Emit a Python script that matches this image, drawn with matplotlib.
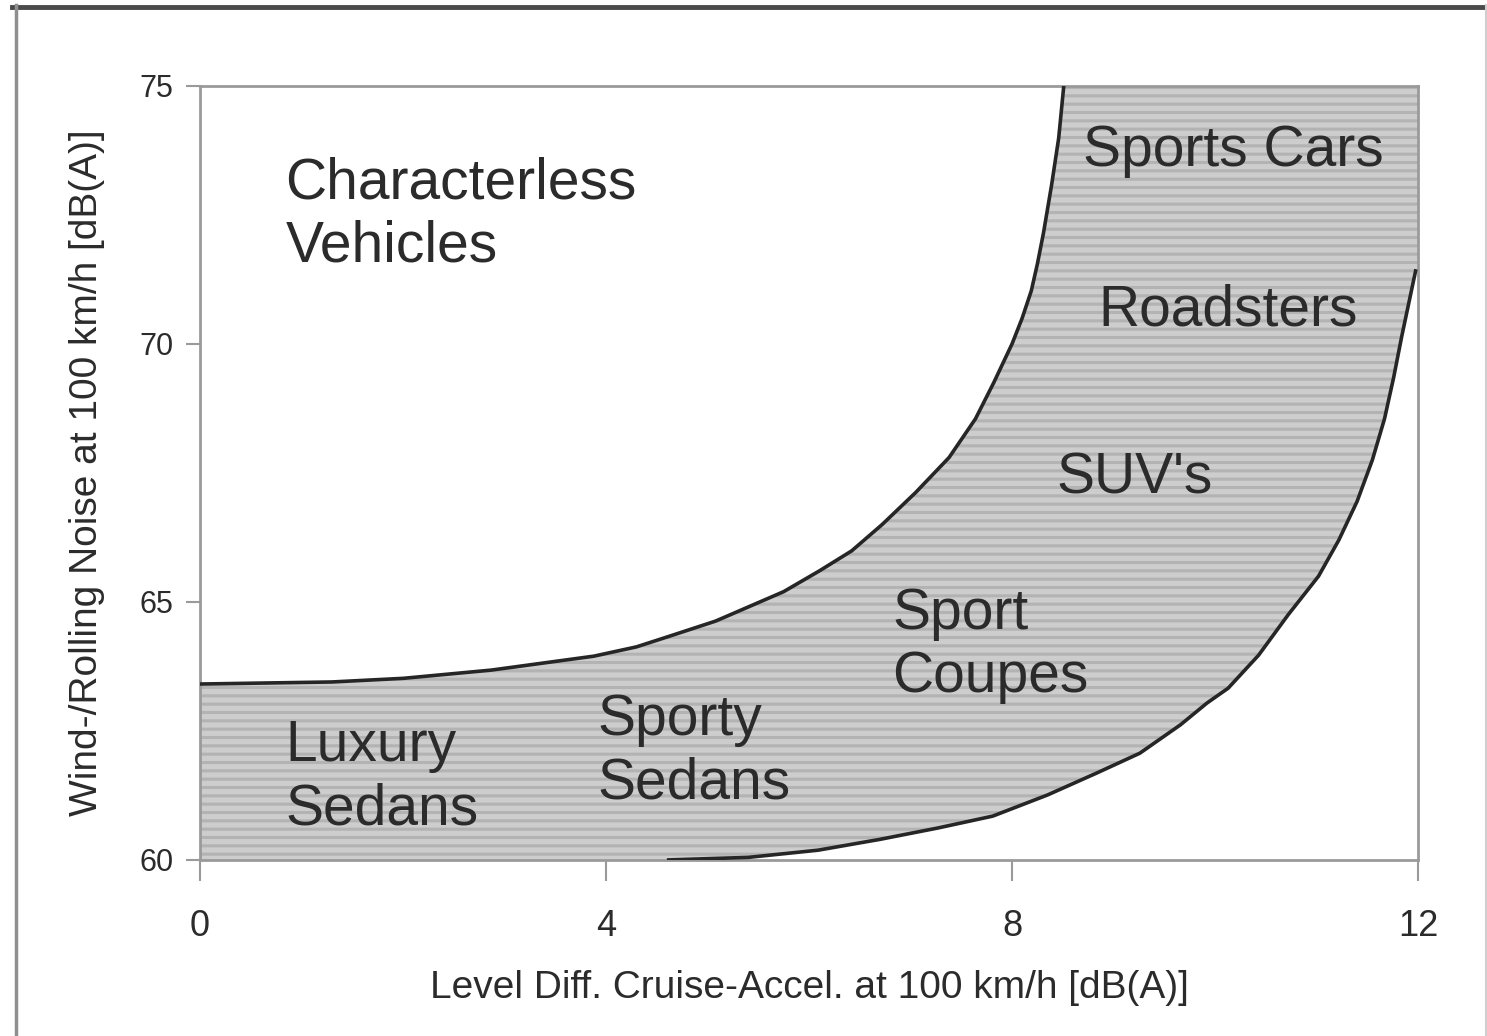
import numpy as np
import matplotlib
matplotlib.use("Agg")
import matplotlib.pyplot as plt
from matplotlib.lines import Line2D

plt.rcParams["font.family"] = ["Liberation Sans", "DejaVu Sans"]
plt.rcParams["hatch.linewidth"] = 2.2

# upper boundary of the band (characterless / characterful limit)
UPPER_X = [0.0, 1.3, 2.0, 2.87, 3.88, 4.3, 4.63, 5.08, 5.75, 6.1, 6.42, 6.72,
           7.05, 7.38, 7.64, 7.82, 8.0, 8.1, 8.19, 8.25, 8.31, 8.39, 8.46, 8.51]
UPPER_Y = [63.41, 63.45, 63.52, 63.68, 63.95, 64.13, 64.34, 64.63, 65.2, 65.6,
           65.99, 66.5, 67.12, 67.8, 68.55, 69.25, 70.0, 70.5, 71.03, 71.55,
           72.15, 73.08, 73.99, 75.0]

# lower boundary of the band
LOWER_X = [4.6, 5.4, 6.09, 6.7, 7.27, 7.81, 8.35, 8.84, 9.26, 9.66, 9.92, 10.13,
           10.43, 10.72, 11.02, 11.22, 11.4, 11.55, 11.67, 11.76, 11.84, 11.91,
           11.98]
LOWER_Y = [60.0, 60.05, 60.19, 60.4, 60.62, 60.85, 61.26, 61.69, 62.07, 62.62,
           63.04, 63.33, 63.97, 64.75, 65.5, 66.2, 66.95, 67.75, 68.55, 69.35,
           70.15, 70.8, 71.45]

XLIM = (0, 12)
YLIM = (60, 75)
XTICKS = [0, 4, 8, 12]
YTICKS = [60, 65, 70, 75]

REGION_LABELS = ["Characterless\nVehicles", "Sports Cars", "Roadsters", "SUV's",
                 "Sport\nCoupes", "Sporty\nSedans", "Luxury\nSedans"]
REGION_X = [0.84, 8.70, 8.85, 8.44, 6.82, 3.92, 0.84]
REGION_Y = [72.5, 73.74, 70.64, 67.4, 64.15, 62.1, 61.6]

BAND_FACE = "#cdcdcd"
BAND_HATCH = "#b3b3b3"
CURVE_COLOR = "#262626"
SPINE_COLOR = "#9a9a9a"
TEXT_COLOR = "#2b2b2b"

fig = plt.figure(figsize=(14.87, 10.36), dpi=100)
fig.patch.set_facecolor("white")
ax = fig.add_axes([0.1345, 0.1699, 0.8191, 0.7471])

# band polygon: upper curve, along the top/right edge, back along lower curve
poly_x = ([XLIM[0]] + UPPER_X + [XLIM[1], XLIM[1]] + LOWER_X[::-1] + [XLIM[0]])
poly_y = ([YLIM[0]] + UPPER_Y + [YLIM[1], LOWER_Y[-1]] + LOWER_Y[::-1] + [YLIM[0]])
ax.fill(poly_x, poly_y, facecolor=BAND_FACE, edgecolor=BAND_HATCH,
        hatch="--", linewidth=0, zorder=1)

for xs, ys in [(UPPER_X, UPPER_Y), (LOWER_X, LOWER_Y)]:
    ax.plot(xs, ys, color=CURVE_COLOR, linewidth=2.6, zorder=3,
            solid_capstyle="butt", solid_joinstyle="round")

for lab, x, y in zip(REGION_LABELS, REGION_X, REGION_Y):
    ax.text(x, y, lab, fontsize=41, color=TEXT_COLOR, ha="left", va="center",
            linespacing=1.22, zorder=4)

ax.set_xlim(*XLIM)
ax.set_ylim(*YLIM)
ax.set_xticks(XTICKS)
ax.set_yticks(YTICKS)
ax.tick_params(axis="x", direction="out", length=15, width=1.5, pad=20,
               labelsize=26, colors=SPINE_COLOR, labelcolor=TEXT_COLOR)
ax.tick_params(axis="y", direction="out", length=10, width=1.5, pad=9,
               labelsize=22, colors=SPINE_COLOR, labelcolor=TEXT_COLOR)
for sp in ax.spines.values():
    sp.set_color(SPINE_COLOR)
    sp.set_linewidth(2.0)

ax.set_xlabel("Level Diff. Cruise-Accel. at 100 km/h [dB(A)]", fontsize=28,
              color=TEXT_COLOR)
ax.set_ylabel("Wind-/Rolling Noise at 100 km/h [dB(A)]", fontsize=28,
              color=TEXT_COLOR)
ax.xaxis.set_label_coords(0.5, -0.142)
ax.yaxis.set_label_coords(-0.078, 0.5)

# scanned frame around the figure
fig.add_artist(Line2D([0.008, 1.0], [0.9935, 0.9935], color="#4a4a4a",
                      linewidth=3.5, transform=fig.transFigure))
fig.add_artist(Line2D([0.0105, 0.0105], [0.0, 0.995], color="#8f8f8f",
                      linewidth=2.5, transform=fig.transFigure))
fig.add_artist(Line2D([0.999, 0.999], [0.0, 0.995], color="#cfcfcf",
                      linewidth=1.5, transform=fig.transFigure))

fig.savefig("out.png", dpi=100)
